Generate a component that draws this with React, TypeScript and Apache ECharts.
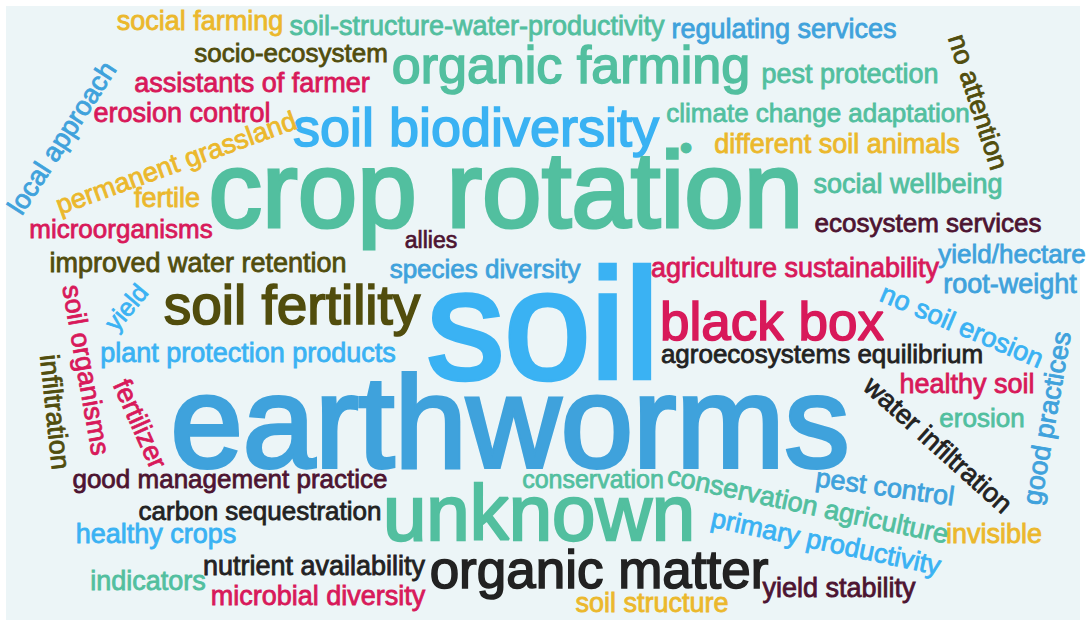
import React, { useEffect, useRef } from "react";
import * as echarts from "echarts";

// ---- data: words and their weights (font size in px) ----
const words: string[] = [
  "social farming", "soil-structure-water-productivity", "regulating services", "no attention",
  "socio-ecosystem", "organic farming", "pest protection", "assistants of farmer",
  "soil biodiversity", "climate change adaptation", "erosion control", "local approach",
  "permanent grassland", "crop rotation", "•", "different soil animals",
  "fertile", "social wellbeing", "microorganisms", "ecosystem services",
  "allies", "improved water retention", "species diversity", "soil",
  "agriculture sustainability", "yield/hectare", "root-weight", "soil fertility",
  "soil organisms", "yield", "black box", "no soil erosion",
  "infiltration", "fertilizer", "plant protection products", "agroecosystems equilibrium",
  "earthworms", "water infiltration", "healthy soil", "good practices",
  "erosion", "conservation", "conservation agriculture", "pest control",
  "good management practice", "unknown", "carbon sequestration", "primary productivity",
  "invisible", "healthy crops", "nutrient availability", "organic matter",
  "indicators", "microbial diversity", "yield stability", "soil structure",
];

const weights: number[] = [
  27, 27, 27, 27,
  26, 52, 27, 27,
  54, 26, 27, 27,
  27, 107, 36, 27,
  27, 27, 26, 26,
  23, 27, 26, 155,
  27, 26, 27, 55,
  27, 25, 53, 27,
  27, 27, 27, 26,
  130, 27, 27, 27,
  26, 25, 27, 27,
  26, 78, 26, 27,
  27, 27, 27, 53,
  27, 27, 27, 27,
];

// colour group of each word
const tones: string[] = [
  "yellow", "teal", "blue", "olive",
  "olive", "teal", "teal", "crimson",
  "sky", "teal", "crimson", "blue",
  "yellow", "teal", "teal", "yellow",
  "yellow", "teal", "crimson", "maroon",
  "maroon", "olive", "blue", "sky",
  "crimson", "blue", "blue", "olive",
  "crimson", "sky", "crimson", "sky",
  "olive", "crimson", "sky", "black",
  "blue", "black", "crimson", "blue",
  "teal", "teal", "teal", "blue",
  "maroon", "teal", "black", "sky",
  "yellow", "sky", "black", "black",
  "teal", "crimson", "maroon", "yellow",
];

// ---- layout (position in the cloud, rotation) ----
const layout: [number, number, number][] = [
  [200, 21, 0], [477, 26, 0], [784, 29, 0], [978, 102, -72],
  [291, 53, 0], [571, 65, 0], [850, 74, 0], [252, 83, 0],
  [476, 127, 0], [818, 113, 0], [182, 113, 0], [62, 138, 57],
  [176, 163, 20], [506, 190, 0], [686, 147, 0], [837, 144, 0],
  [167, 198, 0], [908, 184, 0], [121, 229, 0], [928, 223, 0],
  [431, 240, 0], [198, 263, 0], [485, 269, 0], [543, 324, 0],
  [795, 268, 0], [1012, 254, 0], [1010, 284, 0], [292, 305, 0],
  [86, 370, -80], [126, 307, 50], [772, 321, 0], [962, 326, -23],
  [55, 412, -84], [140, 424, -66], [248, 353, 0], [822, 354, 0],
  [510, 422, 0], [938, 445, -42], [967, 384, 0], [1047, 418, 80],
  [982, 418, 0], [593, 479, 0], [808, 505, -12], [885, 487, -8],
  [230, 479, 0], [539, 513, 0], [260, 511, 0], [826, 542, -12],
  [994, 534, 0], [156, 534, 0], [314, 566, 0], [599, 569, 0],
  [148, 581, 0], [318, 596, 0], [839, 588, 0], [652, 603, 0],
];

const palette: Record<string, string> = {
  teal: "#52bf9f",
  sky: "#3ab2f3",
  blue: "#3fa2dc",
  yellow: "#ebb82c",
  crimson: "#d8195a",
  olive: "#514d0d",
  maroon: "#4d1431",
  black: "#222222",
};

const W = 1091;
const H = 620;

export default function App() {
  const ref = useRef<HTMLDivElement>(null);

  useEffect(() => {
    document.body.style.margin = "0";
    if (!ref.current) return;
    const chart = echarts.init(ref.current, undefined, { renderer: "svg" });

    const data = words.map((w, i) => {
      const size = weights[i];
      const color = palette[tones[i]];
      return {
        name: w,
        value: [layout[i][0], layout[i][1]],
        label: {
          fontSize: size,
          color,
          rotate: layout[i][2],
          textBorderColor: color,
          textBorderWidth: Math.max(0.6, size * 0.03),
        },
      };
    });

    chart.setOption({
      animation: false,
      backgroundColor: "#ffffff",
      grid: { left: 0, right: 0, top: 0, bottom: 0 },
      xAxis: { type: "value", min: 0, max: W, show: false },
      yAxis: { type: "value", min: 0, max: H, inverse: true, show: false },
      graphic: [
        {
          type: "rect",
          z: 0,
          silent: true,
          shape: { x: 6, y: 6, width: 1074, height: 620 },
          style: { fill: "#ecf5f7" },
        },
      ],
      series: [
        {
          type: "scatter",
          symbolSize: 1,
          itemStyle: { color: "rgba(0,0,0,0)" },
          z: 5,
          label: {
            show: true,
            opacity: 1,
            position: "inside",
            align: "center",
            verticalAlign: "middle",
            fontFamily: "'Liberation Sans', Arial, sans-serif",
            fontWeight: "normal",
            formatter: (p: any) => p.name,
          },
          labelLayout: { hideOverlap: false },
          data,
        },
      ],
    });

    return () => chart.dispose();
  }, []);

  return <div ref={ref} style={{ width: W, height: H }} />;
}
